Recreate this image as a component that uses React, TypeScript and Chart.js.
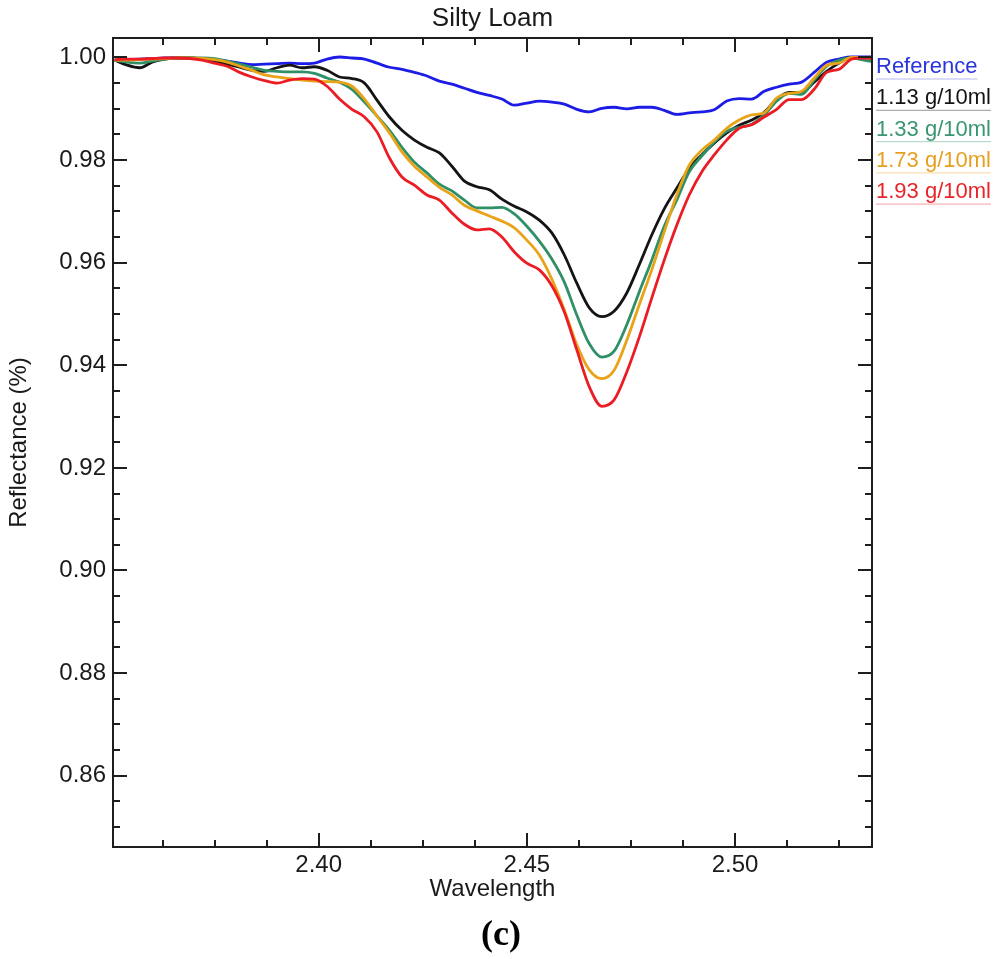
import { useEffect, useRef } from 'react';
import { Chart, registerables } from 'chart.js';

Chart.register(...registerables);

const wavelength = [
  2.351, 2.354, 2.357, 2.360, 2.363, 2.366, 2.369, 2.372, 2.375, 2.378,
  2.381, 2.384, 2.387, 2.390, 2.393, 2.396, 2.399, 2.402, 2.405, 2.408,
  2.411, 2.414, 2.417, 2.420, 2.423, 2.426, 2.429, 2.432, 2.435, 2.438,
  2.441, 2.444, 2.447, 2.450, 2.453, 2.456, 2.459, 2.462, 2.465, 2.468,
  2.471, 2.474, 2.477, 2.480, 2.483, 2.486, 2.489, 2.492, 2.495, 2.498,
  2.501, 2.504, 2.507, 2.510, 2.513, 2.516, 2.519, 2.522, 2.525, 2.528,
  2.531, 2.533,
];

const reference = [
  0.9995, 0.9996, 0.9997, 0.9998, 0.9999, 0.9999, 0.9999, 0.9997, 0.9995, 0.9993,
  0.9989, 0.9986, 0.9987, 0.9988, 0.9989, 0.9988, 0.9989, 0.9997, 1.0001, 0.9999,
  0.9997, 0.9989, 0.9981, 0.9977, 0.9971, 0.9964, 0.9954, 0.9948, 0.9940, 0.9932,
  0.9926, 0.9919, 0.9907, 0.9911, 0.9915, 0.9913, 0.9909, 0.9899, 0.9894, 0.9901,
  0.9903, 0.9900, 0.9903, 0.9903, 0.9897, 0.9889, 0.9892, 0.9894, 0.9898, 0.9915,
  0.9920, 0.9919, 0.9934, 0.9942, 0.9948, 0.9952, 0.9971, 0.9991, 0.9997, 1.0001,
  1.0001, 1.0001,
];

const conc113 = [
  0.9995, 0.9985, 0.9980, 0.9991, 0.9997, 0.9999, 0.9999, 0.9997, 0.9992, 0.9987,
  0.9981, 0.9975, 0.9973, 0.9980, 0.9985, 0.9980, 0.9982, 0.9975, 0.9962, 0.9959,
  0.9950, 0.9917, 0.9884, 0.9858, 0.9839, 0.9825, 0.9814, 0.9788, 0.9759, 0.9748,
  0.9742, 0.9724, 0.9710, 0.9699, 0.9683, 0.9658, 0.9615, 0.9560, 0.9512, 0.9495,
  0.9506, 0.9541, 0.9596, 0.9654, 0.9705, 0.9745, 0.9784, 0.9810, 0.9833, 0.9853,
  0.9868, 0.9878, 0.9893, 0.9919, 0.9932, 0.9932, 0.9952, 0.9973, 0.9989, 1.0000,
  1.0000, 0.9999,
];

const conc133 = [
  0.9995, 0.9991, 0.9989, 0.9993, 0.9997, 0.9999, 0.9999, 0.9999, 0.9998, 0.9993,
  0.9987, 0.9981, 0.9975, 0.9973, 0.9972, 0.9972, 0.9969, 0.9960, 0.9952, 0.9938,
  0.9913, 0.9886, 0.9858, 0.9825, 0.9796, 0.9775, 0.9753, 0.9740, 0.9722, 0.9707,
  0.9707, 0.9708, 0.9695, 0.9671, 0.9642, 0.9607, 0.9562, 0.9498, 0.9442, 0.9416,
  0.9428, 0.9479, 0.9543, 0.9605, 0.9671, 0.9722, 0.9777, 0.9808, 0.9835, 0.9856,
  0.9864, 0.9870, 0.9888, 0.9915, 0.9930, 0.9928, 0.9956, 0.9983, 0.9995, 0.9999,
  0.9995, 0.9992,
];

const conc173 = [
  0.9995, 0.9995, 0.9996, 0.9997, 0.9998, 0.9999, 0.9999, 0.9998, 0.9996, 0.9991,
  0.9983, 0.9975, 0.9966, 0.9962, 0.9959, 0.9956, 0.9954, 0.9953, 0.9952, 0.9944,
  0.9919, 0.9886, 0.9853, 0.9816, 0.9788, 0.9767, 0.9747, 0.9732, 0.9712, 0.9701,
  0.9691, 0.9681, 0.9668, 0.9644, 0.9615, 0.9568, 0.9508, 0.9440, 0.9391, 0.9374,
  0.9391, 0.9449, 0.9518, 0.9586, 0.9660, 0.9732, 0.9790, 0.9819, 0.9839, 0.9862,
  0.9878, 0.9888, 0.9892, 0.9921, 0.9930, 0.9934, 0.9960, 0.9985, 0.9989, 1.0000,
  1.0000, 0.9999,
];

const conc193 = [
  0.9996, 0.9997, 0.9997, 0.9998, 0.9999, 0.9999, 0.9998, 0.9995, 0.9989, 0.9983,
  0.9971, 0.9962, 0.9955, 0.9950, 0.9956, 0.9959, 0.9958, 0.9944, 0.9919, 0.9899,
  0.9884, 0.9855, 0.9804, 0.9767, 0.9751, 0.9732, 0.9722, 0.9697, 0.9675, 0.9664,
  0.9666, 0.9650, 0.9621, 0.9599, 0.9586, 0.9555, 0.9504, 0.9430, 0.9358, 0.9320,
  0.9333, 0.9387, 0.9455, 0.9531, 0.9605, 0.9673, 0.9732, 0.9777, 0.9810, 0.9839,
  0.9862, 0.9869, 0.9884, 0.9899, 0.9918, 0.9918, 0.9938, 0.9971, 0.9977, 0.9997,
  0.9999, 0.9998,
];

const seriesLabels = ['Reference', '1.13 g/10ml', '1.33 g/10ml', '1.73 g/10ml', '1.93 g/10ml'];
const seriesValues = [reference, conc113, conc133, conc173, conc193];
const seriesColors = ['#1c1ce6', '#141414', '#2f8f66', '#e9a318', '#eb1c24'];
const legendColors = ['#2a35d8', '#141414', '#3a9670', '#e6a020', '#e8242a'];

const xTicks = [2.40, 2.45, 2.50];
const xMinorTicks = [2.3625, 2.375, 2.3875, 2.4125, 2.425, 2.4375, 2.4625, 2.475, 2.4875, 2.5125, 2.525];
const yTicks = [0.86, 0.88, 0.90, 0.92, 0.94, 0.96, 0.98, 1.00];
const yMinorTicks = [
  0.85, 0.855, 0.865, 0.87, 0.875, 0.885, 0.89, 0.895, 0.905, 0.91, 0.915,
  0.925, 0.93, 0.935, 0.945, 0.95, 0.955, 0.965, 0.97, 0.975, 0.985, 0.99, 0.995,
];
const xRange = [2.3506, 2.5329];
const yRange = [0.8461, 1.0038];

const chartTitle = 'Silty Loam';
const xTitle = 'Wavelength';
const yTitle = 'Reflectance (%)';
const panelLabel = '(c)';

const FONT = '"Liberation Sans", Arial, Helvetica, sans-serif';
const AXIS_COLOR = '#1e1e1e';

const decorPlugin = {
  id: 'decor',
  afterDatasetsDraw(chart: any) {
    const { ctx, chartArea, scales } = chart;
    const { left, right, top, bottom } = chartArea;
    const xs = scales.x;
    const ys = scales.y;
    ctx.save();
    ctx.strokeStyle = AXIS_COLOR;
    ctx.lineWidth = 2;
    ctx.lineCap = 'butt';
    ctx.strokeRect(left, top, right - left, bottom - top);
    const major = 14;
    const minor = 7;
    const drawX = (v: number, len: number) => {
      const px = Math.round(xs.getPixelForValue(v));
      ctx.beginPath();
      ctx.moveTo(px, bottom);
      ctx.lineTo(px, bottom - len);
      ctx.moveTo(px, top);
      ctx.lineTo(px, top + len);
      ctx.stroke();
    };
    const drawY = (v: number, len: number) => {
      const py = Math.round(ys.getPixelForValue(v));
      ctx.beginPath();
      ctx.moveTo(left, py);
      ctx.lineTo(left + len, py);
      ctx.moveTo(right, py);
      ctx.lineTo(right - len, py);
      ctx.stroke();
    };
    xTicks.forEach((v) => drawX(v, major));
    xMinorTicks.forEach((v) => drawX(v, minor));
    yTicks.forEach((v) => drawY(v, major));
    yMinorTicks.forEach((v) => drawY(v, minor));

    const cx = (left + right) / 2;
    ctx.fillStyle = '#1a1a1a';
    ctx.textAlign = 'center';
    ctx.textBaseline = 'middle';
    ctx.font = `26px ${FONT}`;
    ctx.fillText(chartTitle, cx, 19);
    ctx.font = `24px ${FONT}`;
    ctx.fillText(xTitle, cx, 889);
    ctx.save();
    ctx.translate(19, (top + bottom) / 2);
    ctx.rotate(-Math.PI / 2);
    ctx.fillText(yTitle, 0, 0);
    ctx.restore();
    ctx.font = `bold 36px "Liberation Serif", "Times New Roman", serif`;
    ctx.fillStyle = '#000';
    ctx.fillText(panelLabel, 501, 936);

    ctx.font = `22px ${FONT}`;
    ctx.textAlign = 'left';
    seriesLabels.forEach((label, i) => {
      const y = 67 + i * 31.3;
      ctx.fillStyle = legendColors[i];
      ctx.fillText(label, right + 4, y);
      const w = ctx.measureText(label).width;
      ctx.globalAlpha = 0.35;
      ctx.strokeStyle = legendColors[i];
      ctx.lineWidth = 1.2;
      ctx.beginPath();
      ctx.moveTo(right + 4, y + 12);
      ctx.lineTo(right + 4 + w, y + 12);
      ctx.stroke();
      ctx.globalAlpha = 1;
    });
    ctx.restore();
  },
};

export default function App() {
  const canvasRef = useRef<HTMLCanvasElement | null>(null);

  useEffect(() => {
    const canvas = canvasRef.current;
    if (!canvas) return;
    const order = [5, 4, 3, 2, 1];
    const chart = new Chart(canvas, {
      type: 'line',
      data: {
        datasets: seriesValues.map((vals, i) => ({
          label: seriesLabels[i],
          data: vals.map((v, j) => ({ x: wavelength[j], y: v })),
          borderColor: seriesColors[i],
          backgroundColor: seriesColors[i],
          borderWidth: 2.8,
          pointRadius: 0,
          cubicInterpolationMode: 'monotone' as const,
          fill: false,
          order: order[i],
        })),
      },
      options: {
        responsive: false,
        animation: false,
        events: [],
        layout: { padding: { left: 0, top: 38, right: 128, bottom: 0 } },
        plugins: {
          legend: { display: false },
          title: { display: false },
          tooltip: { enabled: false },
        },
        scales: {
          x: {
            type: 'linear',
            min: xRange[0],
            max: xRange[1],
            grid: { display: false, drawTicks: false },
            border: { display: false },
            afterBuildTicks: (scale: any) => {
              scale.ticks = xTicks.map((value) => ({ value }));
            },
            afterFit: (scale: any) => {
              scale.height = 112;
            },
            ticks: {
              padding: 4,
              maxRotation: 0,
              autoSkip: false,
              color: '#1a1a1a',
              font: { family: FONT, size: 24 },
              callback: (v: any) => Number(v).toFixed(2),
            },
          },
          y: {
            type: 'linear',
            min: yRange[0],
            max: yRange[1],
            grid: { display: false, drawTicks: false },
            border: { display: false },
            afterBuildTicks: (scale: any) => {
              scale.ticks = yTicks.map((value) => ({ value }));
            },
            afterFit: (scale: any) => {
              scale.width = 113;
            },
            ticks: {
              padding: 7,
              autoSkip: false,
              color: '#1a1a1a',
              font: { family: FONT, size: 24 },
              callback: (v: any) => Number(v).toFixed(2),
            },
          },
        },
      },
      plugins: [decorPlugin],
    });
    return () => chart.destroy();
  }, []);

  return (
    <div style={{ position: 'fixed', left: 0, top: 0, width: 1000, height: 959, background: '#fff' }}>
      <canvas ref={canvasRef} width={1000} height={959} style={{ display: 'block' }} />
    </div>
  );
}
